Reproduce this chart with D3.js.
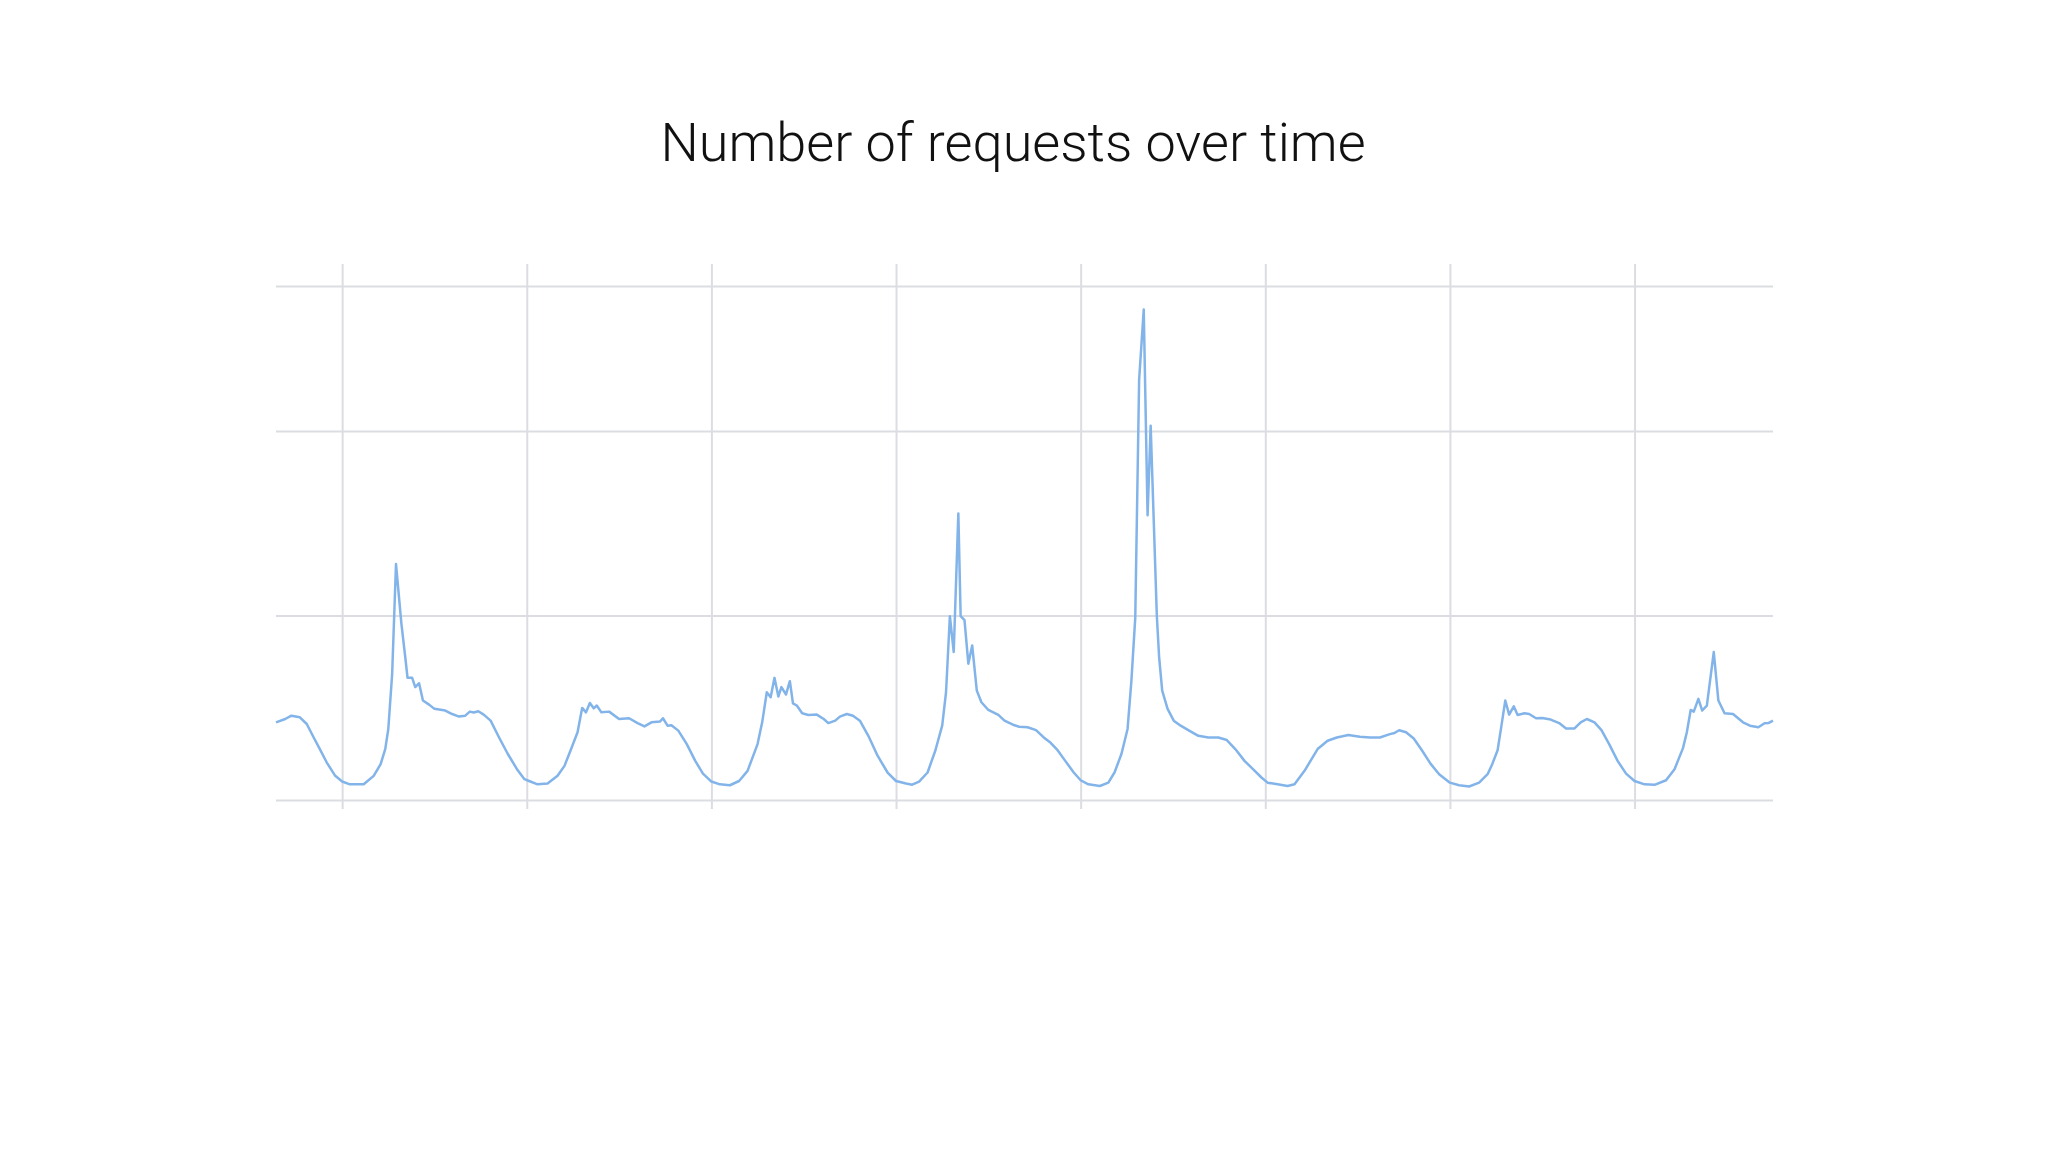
<!DOCTYPE html>
<html>
<head>
<meta charset="utf-8">
<script src="https://cdn.jsdelivr.net/npm/d3@7"></script>
<style>
  body { margin: 0; background: #fff; }
  .grid line { stroke: #dcdde2; stroke-width: 2; }
  .grid path { display: none; }
</style>
</head>
<body>
<div id="chart"></div>
<script>
var svgWidth = 2048;
var svgHeight = 1152;

var margin = { top: 286, right: 275, bottom: 352, left: 276 };
var width = svgWidth - margin.left - margin.right;
var height = svgHeight - margin.top - margin.bottom;

// hours counted from the first midnight shown on the chart
var hours = [
  -8.6, -7.4, -6.6, -5.5, -4.6, -3.7, -2.9, -2.0, -0.9, 0, 1.0, 2.8, 4.1, 5.0, 5.6, 6.0, 6.5, 7.0, 7.7, 8.2,
  8.5, 9.1, 9.5, 10.0, 10.5, 11.3, 12.0, 13.4, 14.3, 15.2, 16.0, 16.6, 17.1, 17.7, 18.4, 19.3, 20.4, 21.5, 22.8, 23.7,
  24.3, 25.4, 26.7, 28.0, 28.9, 29.7, 30.6, 31.2, 31.7, 32.2, 32.7, 33.1, 33.7, 34.7, 36.0, 37.3, 38.4, 39.3, 40.2, 41.3,
  41.7, 42.3, 42.8, 43.7, 44.8, 45.9, 46.9, 48.0, 49.1, 50.4, 51.6, 52.7, 54.0, 54.6, 55.2, 55.7, 56.2, 56.7, 57.1, 57.7,
  58.2, 58.6, 59.1, 59.8, 60.6, 61.7, 62.6, 63.2, 64.1, 64.7, 65.6, 66.4, 67.3, 68.4, 69.6, 70.9, 72.0, 73.3, 74.1, 75.0,
  76.1, 77.1, 78.0, 78.5, 79.0, 79.5, 80.1, 80.4, 80.9, 81.4, 81.9, 82.5, 83.1, 84.0, 85.3, 86.1, 87.2, 88.0, 89.1, 90.2,
  91.2, 92.1, 93.0, 94.0, 95.1, 96.0, 97.0, 98.5, 99.6, 100.4, 101.3, 102.1, 102.6, 103.1, 103.6, 104.2, 104.7, 105.1, 105.9, 106.2,
  106.6, 107.3, 108.1, 109.0, 110.1, 111.3, 112.6, 113.9, 115.0, 116.1, 117.3, 118.4, 119.5, 120.3, 121.6, 122.9, 123.8, 125.1, 126.8, 128.1,
  129.3, 130.8, 132.3, 133.6, 134.9, 136.2, 136.8, 137.4, 138.3, 139.3, 140.4, 141.5, 142.6, 144.0, 145.2, 146.5, 147.8, 148.9, 149.5, 150.2,
  150.7, 151.2, 151.7, 152.3, 152.8, 153.7, 154.3, 155.2, 156.0, 157.1, 158.2, 159.1, 160.2, 161.0, 161.8, 162.8, 163.7, 164.7, 165.8, 166.9,
  168.0, 169.3, 170.6, 172.1, 173.2, 174.3, 174.8, 175.3, 175.7, 176.3, 176.8, 177.4, 178.3, 178.9, 179.7, 180.8, 182.1, 183.0, 184.1, 184.9,
  185.4, 186.0
];

// requests (relative units, one unit per horizontal gridline)
var requests = [
  0.421, 0.439, 0.457, 0.448, 0.412, 0.339, 0.276, 0.203, 0.131, 0.100, 0.085, 0.085, 0.131, 0.194, 0.276, 0.385, 0.684, 1.279, 0.956, 0.775,
  0.662, 0.662, 0.612, 0.633, 0.539, 0.517, 0.494, 0.485, 0.466, 0.452, 0.457, 0.479, 0.474, 0.481, 0.463, 0.430, 0.339, 0.252, 0.162, 0.113,
  0.103, 0.085, 0.089, 0.131, 0.185, 0.270, 0.367, 0.499, 0.475, 0.526, 0.497, 0.512, 0.475, 0.479, 0.439, 0.443, 0.417, 0.399, 0.421, 0.425,
  0.443, 0.403, 0.405, 0.376, 0.303, 0.212, 0.143, 0.100, 0.085, 0.080, 0.103, 0.158, 0.303, 0.421, 0.584, 0.557, 0.662, 0.561, 0.612, 0.572,
  0.644, 0.524, 0.512, 0.470, 0.461, 0.463, 0.439, 0.417, 0.430, 0.452, 0.466, 0.457, 0.430, 0.348, 0.240, 0.149, 0.103, 0.089, 0.083, 0.100,
  0.149, 0.267, 0.403, 0.584, 0.996, 0.802, 1.553, 0.996, 0.975, 0.739, 0.838, 0.593, 0.530, 0.488, 0.461, 0.430, 0.408, 0.397, 0.394, 0.379,
  0.339, 0.310, 0.270, 0.212, 0.149, 0.107, 0.085, 0.076, 0.094, 0.149, 0.249, 0.385, 0.648, 0.990, 2.277, 2.658, 1.543, 2.029, 1.000, 0.775,
  0.593, 0.494, 0.430, 0.403, 0.376, 0.348, 0.339, 0.339, 0.325, 0.276, 0.212, 0.167, 0.122, 0.094, 0.085, 0.076, 0.085, 0.158, 0.276, 0.321,
  0.339, 0.352, 0.343, 0.339, 0.339, 0.357, 0.363, 0.378, 0.367, 0.333, 0.267, 0.196, 0.140, 0.094, 0.080, 0.073, 0.094, 0.140, 0.194, 0.270,
  0.403, 0.539, 0.463, 0.508, 0.461, 0.470, 0.466, 0.443, 0.445, 0.436, 0.417, 0.388, 0.388, 0.421, 0.439, 0.421, 0.379, 0.303, 0.212, 0.143,
  0.103, 0.085, 0.082, 0.107, 0.167, 0.281, 0.367, 0.488, 0.479, 0.548, 0.485, 0.512, 0.802, 0.539, 0.470, 0.466, 0.421, 0.403, 0.394, 0.416,
  0.417, 0.430
];

var yTicks = [0, 1, 2];
var yMax = 2.786;
var startHour = -8.6;
var endHour = 186.0;

var base = new Date(2017, 0, 9);
function toDate(h) { return new Date(base.getTime() + h * 3600 * 1000); }

var data = hours.map(function (h, i) {
  return { date: toDate(h), value: requests[i] };
});

var svg = d3.select("#chart")
  .append("svg")
  .attr("width", svgWidth)
  .attr("height", svgHeight);

svg.append("rect")
  .attr("width", svgWidth)
  .attr("height", svgHeight)
  .attr("fill", "#fff");

svg.append("text")
  .attr("x", 1013)
  .attr("y", 161)
  .attr("text-anchor", "middle")
  .style("font-family", "Roboto, 'Liberation Sans', sans-serif")
  .style("font-weight", 300)
  .style("font-size", "54px")
  .style("fill", "#111")
  .text("Number of requests over time");

var chart = svg.append("g")
  .attr("transform", `translate(${margin.left}, ${margin.top})`);

var xscale = d3.scaleTime()
  .domain([toDate(startHour), toDate(endHour)])
  .range([0, width]);

var yscale = d3.scaleLinear()
  .domain([0, yMax])
  .range([height, 0]);

// horizontal gridlines
chart.append("g")
  .attr("class", "grid")
  .call(d3.axisLeft(yscale).tickValues(yTicks.concat([yMax])).tickSize(-width).tickFormat(""))
  .selectAll(".tick line")
  .attr("stroke", d => d === yMax ? "#cfd3da" : "#dcdde2");

// day gridlines, poking out above and below the plot
var xgrid = chart.append("g")
  .attr("class", "grid")
  .attr("transform", `translate(0, ${height})`)
  .call(d3.axisBottom(xscale).ticks(d3.timeDay.every(1)).tickSize(-(height + 22)).tickFormat(""));

xgrid.selectAll(".tick line").attr("y1", 9);

var line = d3.line()
  .x(d => xscale(d.date))
  .y(d => yscale(d.value));

chart.append("path")
  .datum(data)
  .attr("fill", "none")
  .attr("stroke", "#82b4ea")
  .attr("stroke-width", 2.5)
  .attr("stroke-linejoin", "round")
  .attr("d", line);
</script>
</body>
</html>
